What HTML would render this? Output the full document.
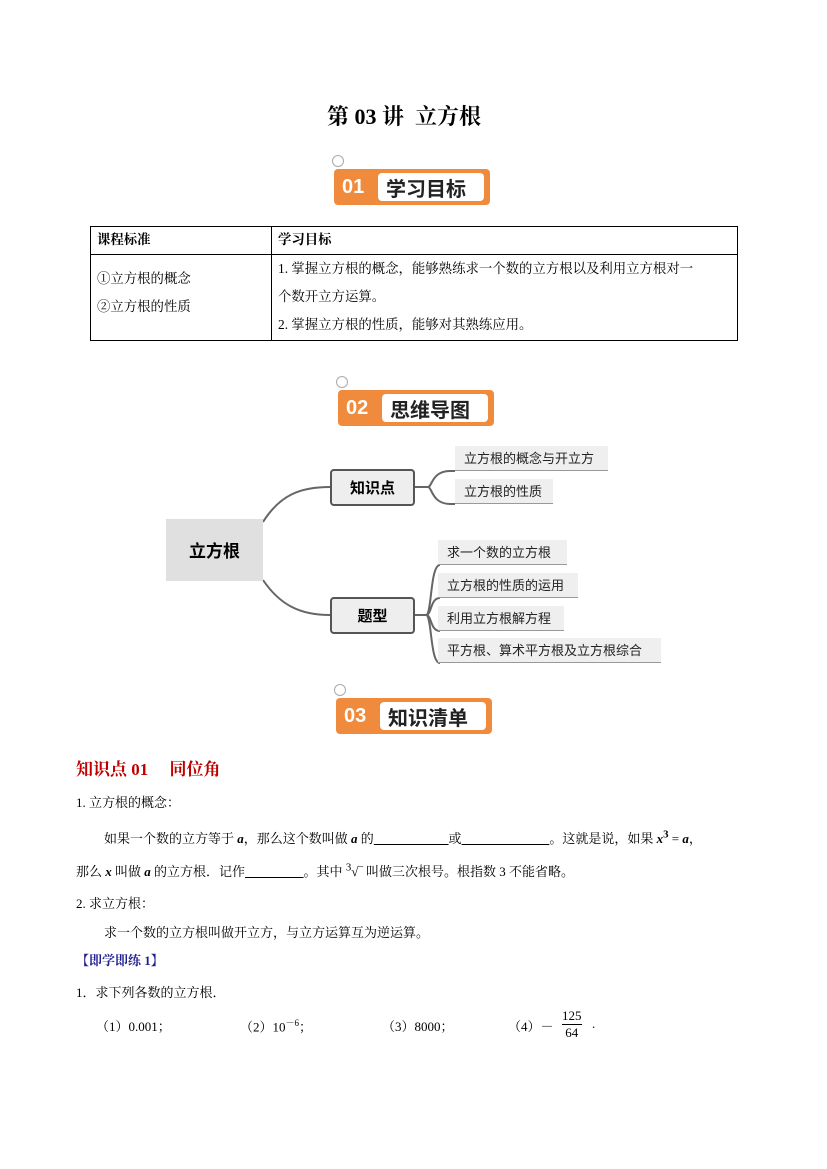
<!DOCTYPE html>
<html><head><meta charset="utf-8"><style>
body{margin:0;background:#fff;}
#p{position:relative;width:827px;height:1169px;overflow:hidden;font-family:"Liberation Serif","Noto Serif CJK SC","Noto Sans CJK SC",serif;color:#000;}
.a{position:absolute;white-space:nowrap;}
.badge{position:absolute;width:156px;height:40px;}
.badge .o{position:absolute;left:0;top:4px;width:156px;height:36px;background:#f08a3c;border-radius:4px;}
.badge .w{position:absolute;left:44px;top:8px;width:106px;height:28px;background:#fff;border-radius:4px;}
.badge .n{position:absolute;left:8px;top:11px;color:#fff;font:bold 20px "Liberation Sans",sans-serif;}
.badge .t{position:absolute;left:52px;top:8px;font:bold 20px "Noto Sans CJK SC",sans-serif;color:#222;}
.badge .c{position:absolute;left:-2px;top:-10px;width:10px;height:10px;border:1.5px solid #aaa;border-radius:50%;}
.leaf{position:absolute;height:25px;background:#efefef;border-bottom:1.5px solid #999;font:13px "Noto Sans CJK SC",sans-serif;line-height:24px;padding-left:9px;box-sizing:border-box;color:#222;}
.br{position:absolute;width:85px;height:37px;background:#eee;border:2px solid #555;border-radius:4px;box-sizing:border-box;font:bold 15px "Noto Sans CJK SC",sans-serif;text-align:center;line-height:33px;}
td{border:1px solid #000;vertical-align:top;padding:0 6px;font-size:13.4px;}
</style></head><body><div id="p">
<div class="a" style="left:327px;top:100px;font-size:22px;font-weight:bold;">第 03 讲&nbsp; 立方根</div>

<div class="badge" style="left:334px;top:165px"><div class="c"></div><div class="o"></div><div class="w"></div><div class="n">01</div><div class="t">学习目标</div></div>

<table style="position:absolute;left:90px;top:226px;width:648px;border-collapse:collapse;">
<tr style="height:28px"><td style="width:168px;font-weight:bold;line-height:26px">课程标准</td><td style="font-weight:bold;line-height:26px">学习目标</td></tr>
<tr style="height:86px"><td style="padding-top:10px;line-height:28px">①立方根的概念<br>②立方根的性质</td><td style="line-height:28px;padding-top:0">1. 掌握立方根的概念，能够熟练求一个数的立方根以及利用立方根对一<br>个数开立方运算。<br>2. 掌握立方根的性质，能够对其熟练应用。</td></tr>
</table>

<div class="badge" style="left:338px;top:386px"><div class="c"></div><div class="o"></div><div class="w"></div><div class="n">02</div><div class="t">思维导图</div></div>

<svg class="a" style="left:0;top:0" width="827" height="1169">
<g fill="none" stroke="#666" stroke-width="2">
<path d="M263,522 C280,495 300,487 330,487"/>
<path d="M263,580 C280,605 300,615 330,615"/>
<path d="M415,487 L428,487 C432,487 432,471 450,471 L455,471"/>
<path d="M428,487 C432,487 432,504 450,504 L455,504"/>
<path d="M415,615 L426,615"/>
<path d="M426,615 C432,615 430,565 440,565"/>
<path d="M426,615 C432,615 430,598 440,598"/>
<path d="M426,615 C432,615 430,631 440,631"/>
<path d="M426,615 C432,615 430,663 440,663"/>
</g></svg>
<div class="a" style="left:166px;top:519px;width:97px;height:62px;background:#e0e0e0;font:bold 17px 'Noto Sans CJK SC',sans-serif;text-align:center;line-height:62px;">立方根</div>
<div class="br" style="left:330px;top:469px">知识点</div>
<div class="br" style="left:330px;top:597px">题型</div>
<div class="leaf" style="left:455px;top:446px;width:153px">立方根的概念与开立方</div>
<div class="leaf" style="left:455px;top:479px;width:98px">立方根的性质</div>
<div class="leaf" style="left:438px;top:540px;width:129px">求一个数的立方根</div>
<div class="leaf" style="left:438px;top:573px;width:140px">立方根的性质的运用</div>
<div class="leaf" style="left:438px;top:606px;width:126px">利用立方根解方程</div>
<div class="leaf" style="left:438px;top:638px;width:223px">平方根、算术平方根及立方根综合</div>

<div class="badge" style="left:336px;top:694px"><div class="c"></div><div class="o"></div><div class="w"></div><div class="n">03</div><div class="t">知识清单</div></div>

<div class="a" style="left:76px;top:755px;font-size:17px;font-weight:bold;color:#c00000;">知识点 01&nbsp;&nbsp;&nbsp;&nbsp; 同位角</div>
<div class="a" style="left:76px;top:792px;font-size:13px">1. 立方根的概念：</div>
<div class="a" style="left:104px;top:828px;font-size:13px">如果一个数的立方等于 <b><i>a</i></b>，那么这个数叫做 <b><i>a</i></b> 的<u>&nbsp;&nbsp;&nbsp;&nbsp;&nbsp;&nbsp;&nbsp;&nbsp;&nbsp;&nbsp;&nbsp;&nbsp;&nbsp;&nbsp;&nbsp;&nbsp;&nbsp;&nbsp;&nbsp;&nbsp;&nbsp;&nbsp;&nbsp;</u>或<u>&nbsp;&nbsp;&nbsp;&nbsp;&nbsp;&nbsp;&nbsp;&nbsp;&nbsp;&nbsp;&nbsp;&nbsp;&nbsp;&nbsp;&nbsp;&nbsp;&nbsp;&nbsp;&nbsp;&nbsp;&nbsp;&nbsp;&nbsp;&nbsp;&nbsp;&nbsp;&nbsp;</u>。这就是说，如果 <b><i>x</i><sup>3</sup></b> = <b><i>a</i></b>，</div>
<div class="a" style="left:76px;top:861px;font-size:13px">那么 <b><i>x</i></b> 叫做 <b><i>a</i></b> 的立方根．记作<u>&nbsp;&nbsp;&nbsp;&nbsp;&nbsp;&nbsp;&nbsp;&nbsp;&nbsp;&nbsp;&nbsp;&nbsp;&nbsp;&nbsp;&nbsp;&nbsp;&nbsp;&nbsp;</u>。其中 <sup>3</sup>√‾ 叫做三次根号。根指数 3 不能省略。</div>
<div class="a" style="left:76px;top:893px;font-size:13px">2. 求立方根：</div>
<div class="a" style="left:104px;top:922px;font-size:13px">求一个数的立方根叫做开立方，与立方运算互为逆运算。</div>
<div class="a" style="left:76px;top:950px;font-size:13px;font-weight:bold;color:#1f1f8f">【即学即练 1】</div>
<div class="a" style="left:76px;top:982px;font-size:13px">1．求下列各数的立方根．</div>
<div class="a" style="left:96px;top:1016px;font-size:13px">（1）0.001；</div>
<div class="a" style="left:240px;top:1016px;font-size:13px">（2）10<sup style="font-size:9px">－6</sup>；</div>
<div class="a" style="left:382px;top:1016px;font-size:13px">（3）8000；</div>
<div class="a" style="left:508px;top:1016px;font-size:13px">（4）－</div>
<div class="a" style="left:562px;top:1008px;font-size:13px;text-align:center;line-height:16px"><span style="border-bottom:1px solid #000;display:block">125</span>64</div>
<div class="a" style="left:592px;top:1016px;font-size:13px">.</div>
</div></body></html>
